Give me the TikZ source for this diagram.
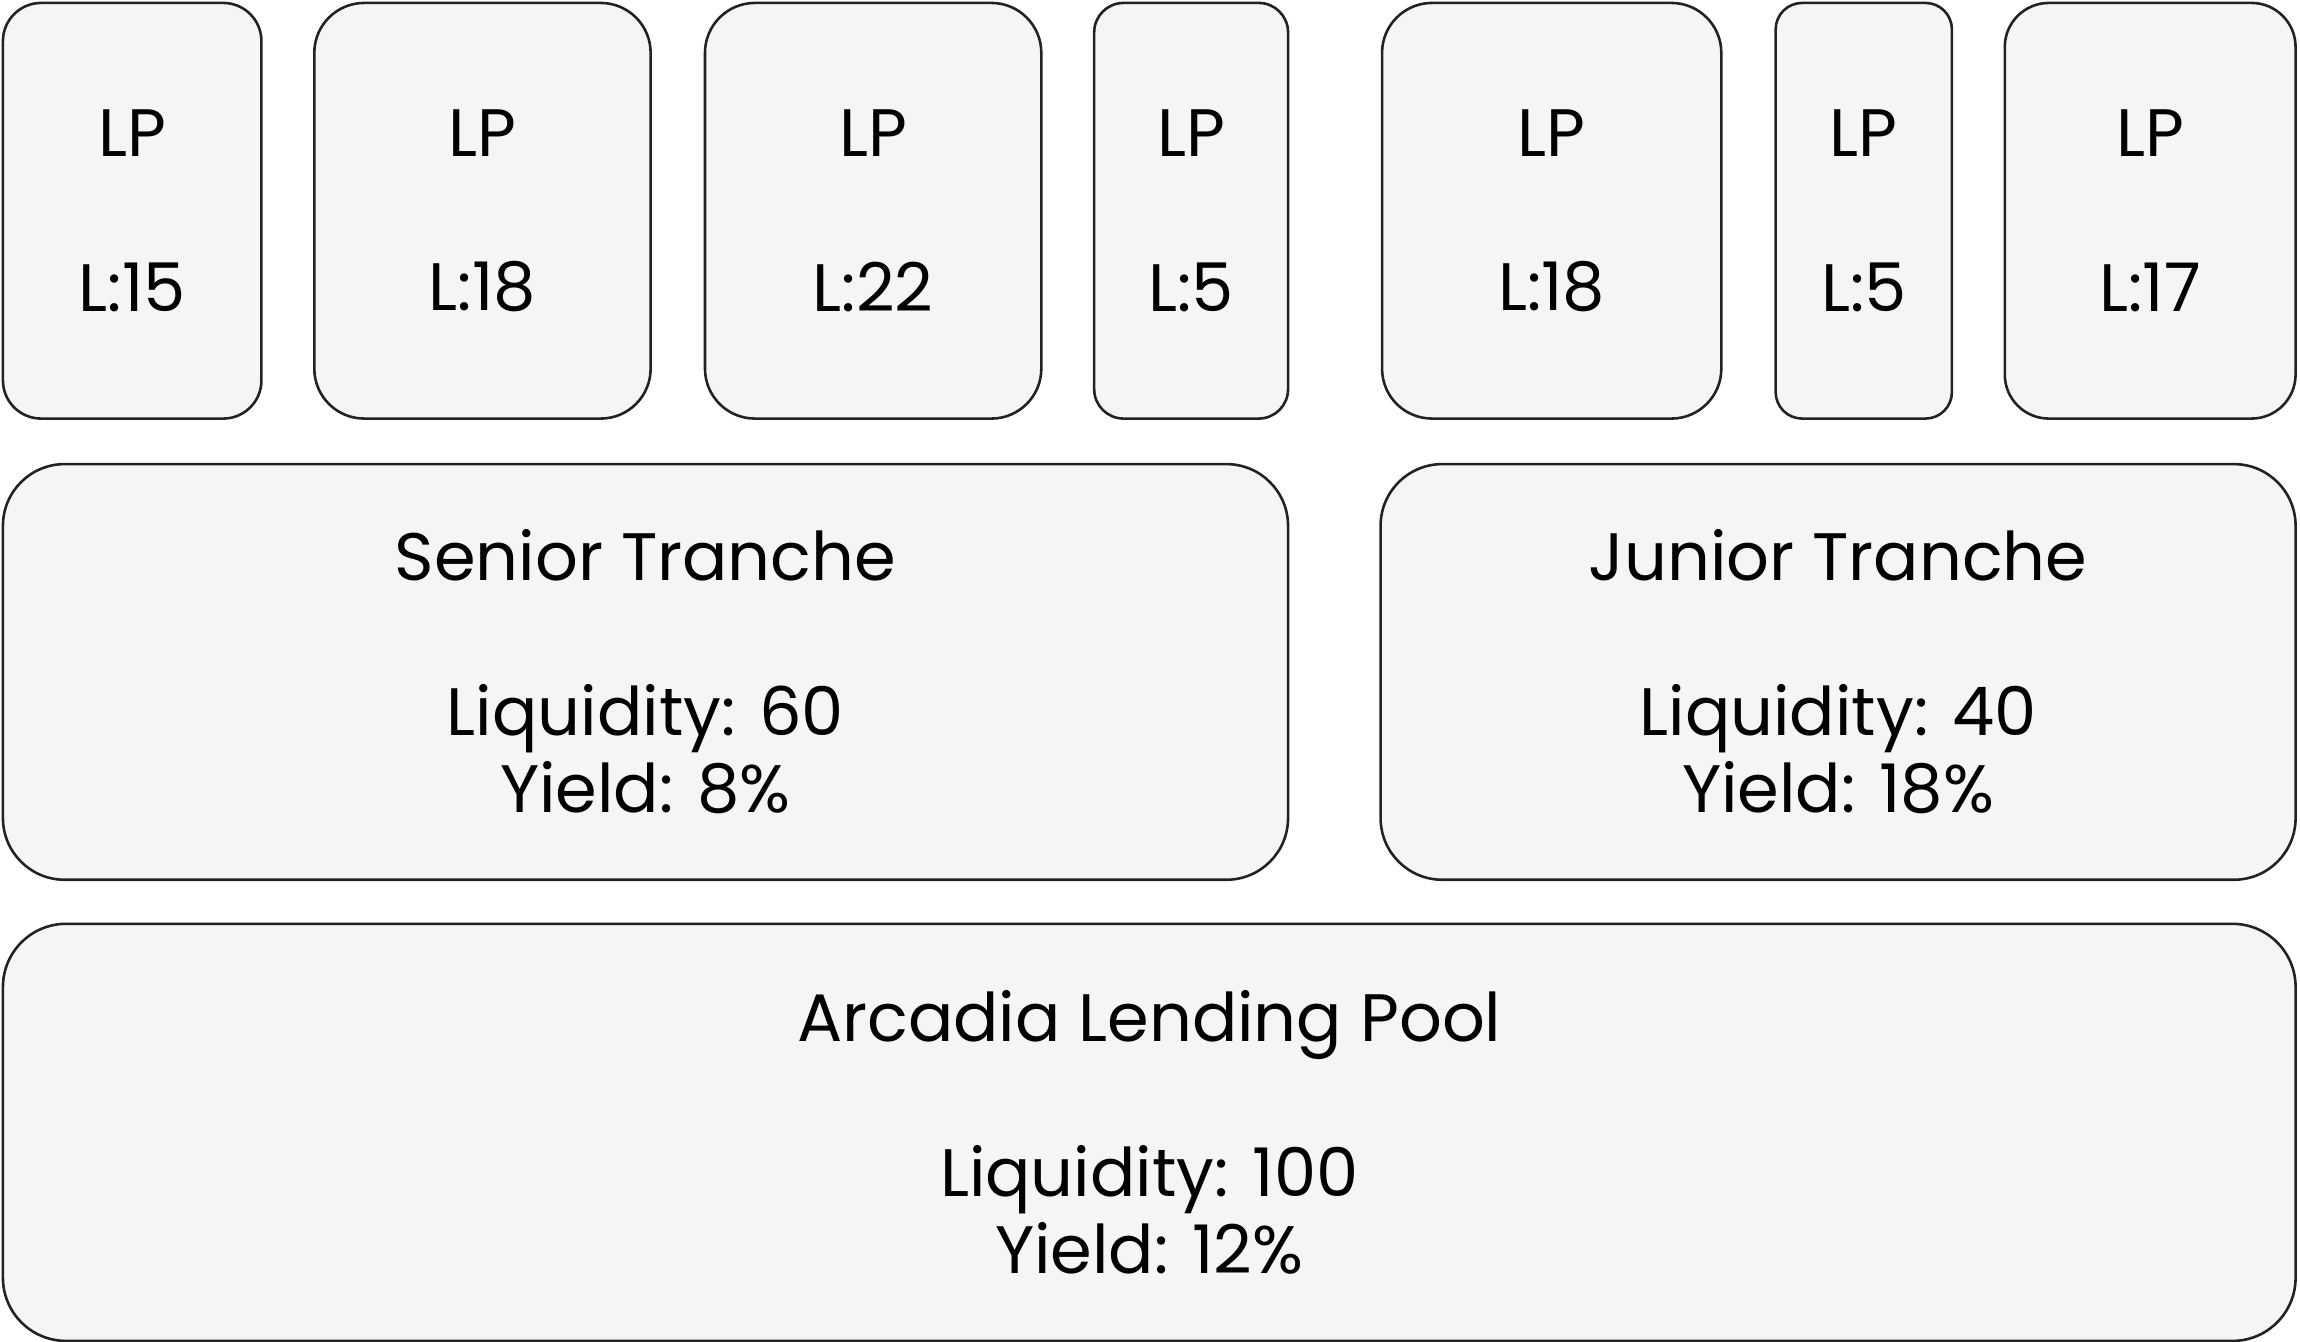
\documentclass[tikz,border=0pt]{standalone}
\usepackage{fontspec}
\setmainfont{Poppins}
\definecolor{boxfill}{HTML}{F5F5F5}
\definecolor{boxline}{HTML}{222222}
\tikzset{
	box/.style={draw=boxline, fill=boxfill, line width=0.5pt, align=center,
		inner sep=0pt, font=\fontsize{13}{15}\selectfont},
	lpbox/.style={box, minimum height=2.83cm, minimum width=#1},
}
\begin{document}
\begin{tikzpicture}
	\useasboundingbox (0,0) rectangle (15.66,-9.137);
	
	% liquidity providers
	\node[lpbox=1.76cm, rounded corners=0.26cm](lp1) at (0.90,-1.435) {LP\\[15pt]L:15};
	\node[lpbox=2.29cm, rounded corners=0.34cm](lp2) at (3.285,-1.435) {LP\\[15pt]L:18};
	\node[lpbox=2.29cm, rounded corners=0.34cm](lp3) at (5.945,-1.435) {LP\\[15pt]L:22};
	\node[lpbox=1.32cm, rounded corners=0.20cm](lp4) at (8.11,-1.435) {LP\\[15pt]L:5};
	\node[lpbox=2.31cm, rounded corners=0.34cm](lp5) at (10.565,-1.435) {LP\\[15pt]L:18};
	\node[lpbox=1.20cm, rounded corners=0.18cm](lp6) at (12.69,-1.435) {LP\\[15pt]L:5};
	\node[lpbox=1.98cm, rounded corners=0.30cm](lp7) at (14.64,-1.435) {LP\\[15pt]L:17};
	
	% tranches
	\node[box, minimum width=8.75cm, minimum height=2.83cm, rounded corners=0.42cm]
		(senior) at (4.395,-4.575) {Senior Tranche\\[15pt]Liquidity: 60\\Yield: 8\%};
	\node[box, minimum width=6.23cm, minimum height=2.83cm, rounded corners=0.42cm]
		(junior) at (12.515,-4.575) {Junior Tranche\\[15pt]Liquidity: 40\\Yield: 18\%};
	
	% pool
	\node[box, minimum width=15.61cm, minimum height=2.84cm, rounded corners=0.43cm]
		(pool) at (7.825,-7.71) {Arcadia Lending Pool\\[15pt]Liquidity: 100\\Yield: 12\%};
\end{tikzpicture}
\end{document}
